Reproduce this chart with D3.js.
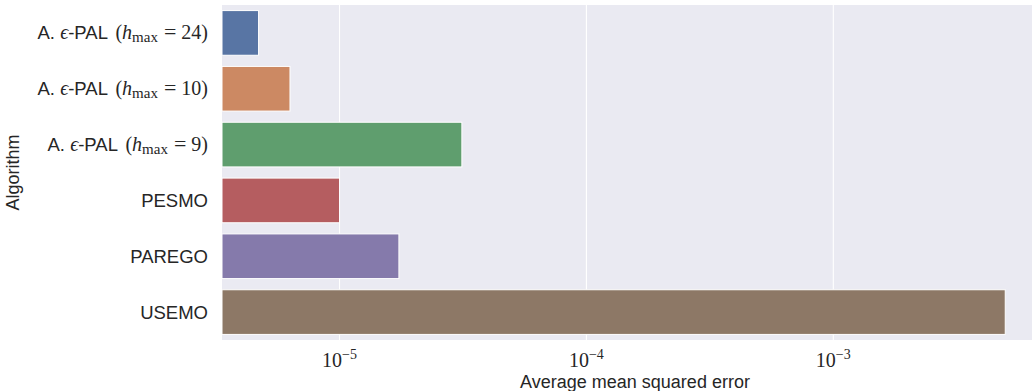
<!DOCTYPE html>
<html>
<head>
<meta charset="utf-8">
<script src="https://cdn.jsdelivr.net/npm/d3@7"></script>
<style>
  html, body { margin: 0; padding: 0; background: #ffffff; }
  svg { display: block; }
  .sans { font-family: "Liberation Sans", "DejaVu Sans", sans-serif; }
  .serif { font-family: "Liberation Serif", "DejaVu Serif", serif; }
</style>
</head>
<body>
<svg id="chart" width="1032" height="391"></svg>
<script>
// Algorithms (top to bottom) and their average mean squared error
const algorithms = ["A-PAL-24", "A-PAL-10", "A-PAL-9", "PESMO", "PAREGO", "USEMO"];
const hmaxValues = [24, 10, 9, null, null, null];
const mseValues = [4.7e-6, 6.3e-6, 3.13e-5, 1.0e-5, 1.74e-5, 4.97e-3];
const barColors = ["#5875a4", "#cc8963", "#5f9e6e", "#b55d60", "#857aab", "#8d7866"];
const xTickValues = [1e-5, 1e-4, 1e-3];
const xTickExponents = ["\u22125", "\u22124", "\u22123"];
const xDomain = [Math.pow(10, -5.476), Math.pow(10, -2.1304)];

const svg = d3.select("#chart");
const plot = { left: 222, right: 1048, top: 5, bottom: 340 };
const textColor = "#262626";

const x = d3.scaleLog().domain(xDomain).range([plot.left, plot.right]);
const y = d3.scaleBand().domain(algorithms).range([plot.top, plot.bottom])
  .paddingInner(0.2).paddingOuter(0.1);

// Axes background
svg.append("rect")
  .attr("x", plot.left).attr("y", plot.top)
  .attr("width", plot.right - plot.left).attr("height", plot.bottom - plot.top)
  .attr("fill", "#eaeaf2");

// Vertical grid lines at decades
svg.append("g")
  .selectAll("line")
  .data(xTickValues)
  .join("line")
  .attr("x1", d => x(d)).attr("x2", d => x(d))
  .attr("y1", plot.top).attr("y2", plot.bottom)
  .attr("stroke", "#ffffff").attr("stroke-width", 1.1);

// Bars
svg.append("g")
  .selectAll("rect")
  .data(algorithms)
  .join("rect")
  .attr("x", plot.left)
  .attr("y", d => y(d))
  .attr("width", (d, i) => x(mseValues[i]) - plot.left)
  .attr("height", y.bandwidth())
  .attr("fill", (d, i) => barColors[i])
  .attr("stroke", "#ffffff")
  .attr("stroke-width", 1);

// Category tick labels (mixed sans text and serif math)
const yLabels = svg.append("g");
algorithms.forEach((name, i) => {
  const cy = y(name) + y.bandwidth() / 2;
  const t = yLabels.append("text")
    .attr("x", 208).attr("y", cy + 6.5)
    .attr("text-anchor", "end")
    .attr("fill", textColor)
    .style("font-size", "18.5px");
  if (hmaxValues[i] !== null) {
    t.append("tspan").attr("class", "sans").text("A. ");
    t.append("tspan").attr("class", "serif").style("font-style", "italic").style("font-size", "20px").text("\u03f5");
    t.append("tspan").attr("class", "sans").text("-PAL ");
    t.append("tspan").attr("class", "serif").attr("dx", 3).style("font-size", "20px").text("(");
    t.append("tspan").attr("class", "serif").style("font-style", "italic").style("font-size", "20px").text("h");
    t.append("tspan").attr("class", "serif").attr("dy", 3).style("font-size", "15px").text("max");
    t.append("tspan").attr("class", "serif").attr("dy", -3).attr("dx", 6).style("font-size", "22px").text("=");
    t.append("tspan").attr("class", "serif").attr("dx", 5).style("font-size", "20px").text(hmaxValues[i] + ")");
  } else {
    t.append("tspan").attr("class", "sans").text(name);
  }
});

// Decade tick labels on the x axis
const xLabels = svg.append("g");
xTickValues.forEach((v, i) => {
  const t = xLabels.append("text")
    .attr("x", x(v)).attr("y", 367)
    .attr("text-anchor", "middle")
    .attr("class", "serif")
    .attr("fill", textColor)
    .style("font-size", "20px");
  t.append("tspan").text("10");
  t.append("tspan").attr("dy", -8).style("font-size", "14px").text(xTickExponents[i]);
});

// Axis titles
svg.append("text")
  .attr("class", "sans")
  .attr("x", (plot.left + plot.right) / 2).attr("y", 388)
  .attr("text-anchor", "middle")
  .attr("fill", textColor)
  .style("font-size", "18px")
  .text("Average mean squared error");

svg.append("text")
  .attr("class", "sans")
  .attr("transform", `translate(19, ${(plot.top + plot.bottom) / 2}) rotate(-90)`)
  .attr("text-anchor", "middle")
  .attr("fill", textColor)
  .style("font-size", "18px")
  .text("Algorithm");
</script>
</body>
</html>
